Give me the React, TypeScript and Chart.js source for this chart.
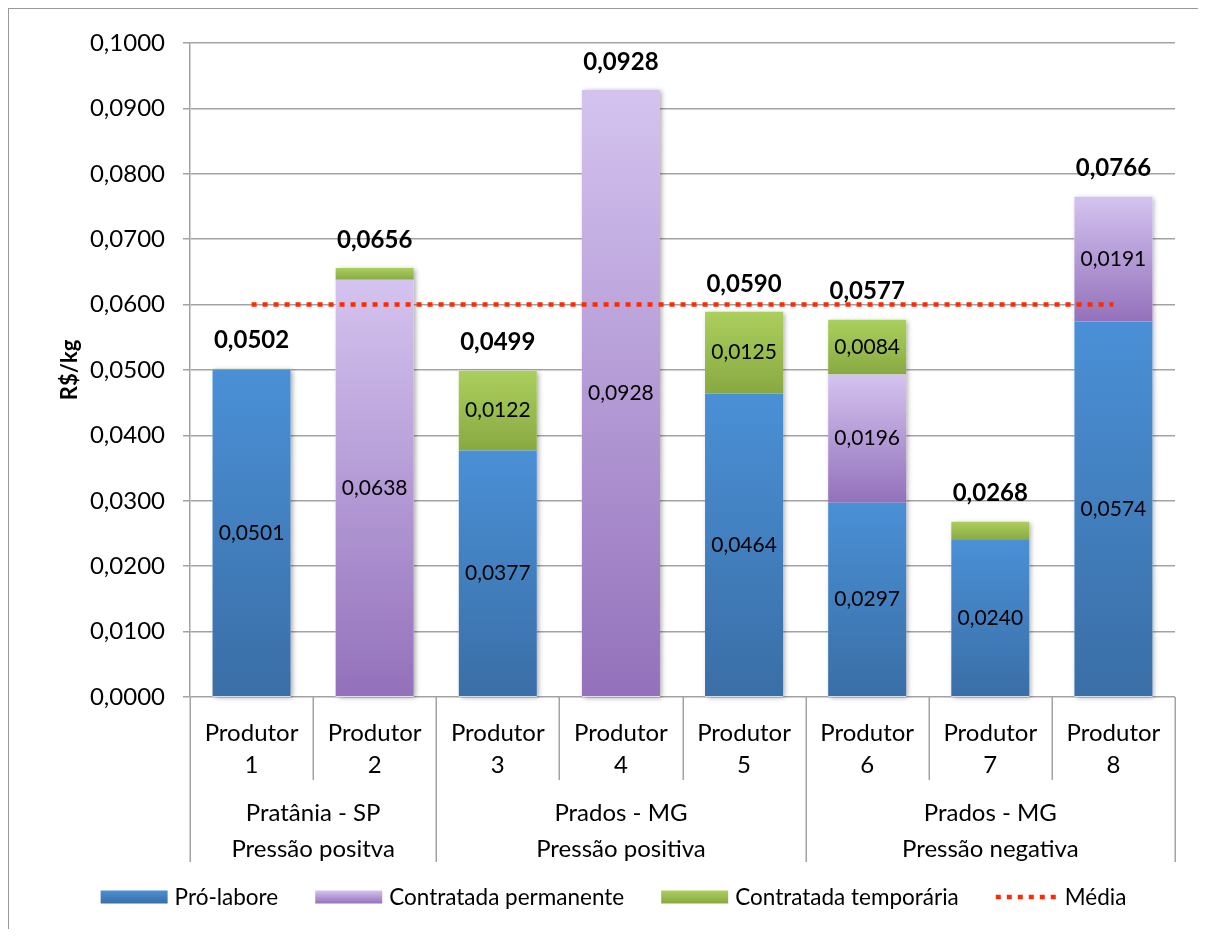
import { useEffect, useRef } from 'react';
import { Chart, registerables } from 'chart.js';

Chart.register(...registerables);

// Labour cost per kg, split by type of labour (R$/kg)
const producers = ['Produtor 1', 'Produtor 2', 'Produtor 3', 'Produtor 4', 'Produtor 5', 'Produtor 6', 'Produtor 7', 'Produtor 8'];
const proLabore = [0.0501, 0, 0.0377, 0, 0.0464, 0.0297, 0.024, 0.0574];
const permanente = [0, 0.0638, 0, 0.0928, 0, 0.0196, 0, 0.0191];
const temporaria = [0.0001, 0.0018, 0.0122, 0, 0.0125, 0.0084, 0.0028, 0];
const totals = [0.0502, 0.0656, 0.0499, 0.0928, 0.059, 0.0577, 0.0268, 0.0766];
const media = [0.06, 0.06, 0.06, 0.06, 0.06, 0.06, 0.06, 0.06];

// Region / pressure groups along the category axis
const groupCity = ['Pratânia - SP', 'Prados - MG', 'Prados - MG'];
const groupPressure = ['Pressão positva', 'Pressão positiva', 'Pressão negativa'];
const groupSizes = [2, 3, 3];

const seriesNames = ['Pró-labore', 'Contratada permanente', 'Contratada temporária'];
const seriesValues = [proLabore, permanente, temporaria];
const seriesColors = [
  ['#4a90d6', '#3a6ea6'],
  ['#d4c3ef', '#9371bb'],
  ['#abcf5d', '#88a942'],
];
const mediaName = 'Média';
const mediaColor = '#ff2a00';

const FONT = 'Lato, "Open Sans", sans-serif';
const GRID = '#a3a3a3';

const fmt = (v: number) => Number(v).toFixed(4).replace('.', ',');

const stackBase = (k: number, i: number) => {
  let s = 0;
  for (let j = 0; j < k; j++) s += seriesValues[j][i];
  return s;
};

const segmentGradient = (k: number) => (ctx: any) => {
  const chart = ctx.chart;
  const y = chart.scales?.y;
  const [top, bottom] = seriesColors[k];
  if (!y || ctx.type !== 'data') return bottom;
  const i = ctx.dataIndex;
  const base = stackBase(k, i);
  const y0 = y.getPixelForValue(base + seriesValues[k][i]);
  const y1 = y.getPixelForValue(base);
  if (!isFinite(y0) || !isFinite(y1) || Math.abs(y1 - y0) < 0.5) return top;
  const g = chart.ctx.createLinearGradient(0, y0, 0, y1);
  g.addColorStop(0, top);
  g.addColorStop(1, bottom);
  return g;
};

// Soft drop shadow behind every stacked column
const columnShadow = {
  id: 'columnShadow',
  beforeDatasetsDraw(chart: any) {
    const meta = chart.getDatasetMeta(1);
    const y = chart.scales.y;
    const c = chart.ctx;
    c.save();
    c.shadowColor = 'rgba(0,0,0,0.35)';
    c.shadowBlur = 5;
    c.shadowOffsetX = 2;
    c.shadowOffsetY = 1;
    c.fillStyle = '#ffffff';
    meta.data.forEach((el: any, i: number) => {
      const top = y.getPixelForValue(stackBase(3, i));
      const bottom = y.getPixelForValue(0);
      const w = el.width;
      c.fillRect(el.x - w / 2, top, w, bottom - top);
    });
    c.restore();
  },
};

// Segment values, column totals
const valueLabels = {
  id: 'valueLabels',
  afterDatasetsDraw(chart: any) {
    const c = chart.ctx;
    const y = chart.scales.y;
    c.save();
    c.fillStyle = '#000';
    c.textAlign = 'center';
    c.textBaseline = 'middle';
    c.font = `21px ${FONT}`;
    for (let k = 0; k < seriesValues.length; k++) {
      const meta = chart.getDatasetMeta(k + 1);
      meta.data.forEach((el: any, i: number) => {
        const v = seriesValues[k][i];
        if (v < 0.005) return;
        c.fillText(fmt(v), el.x, (el.y + el.base) / 2);
      });
    }
    c.font = `bold 24px ${FONT}`;
    const meta = chart.getDatasetMeta(1);
    meta.data.forEach((el: any, i: number) => {
      const top = y.getPixelForValue(stackBase(3, i));
      c.fillText(fmt(totals[i]), el.x, top - 28);
    });
    c.restore();
  },
};

// Group captions and separators under the category axis, plus the legend
const axisGroups = {
  id: 'axisGroups',
  afterDraw(chart: any) {
    const c = chart.ctx;
    const xs = chart.scales.x;
    const area = chart.chartArea;
    const n = producers.length;
    const edge = (i: number) =>
      i === 0 ? xs.left : i === n ? xs.right : (xs.getPixelForValue(i - 1) + xs.getPixelForValue(i)) / 2;
    const groupEdges = [0];
    groupSizes.forEach((s) => groupEdges.push(groupEdges[groupEdges.length - 1] + s));

    c.save();
    c.strokeStyle = GRID;
    c.lineWidth = 1.5;
    for (let i = 0; i <= n; i++) {
      const long = groupEdges.includes(i);
      const x = Math.round(edge(i)) + 0.25;
      c.beginPath();
      c.moveTo(x, area.bottom);
      c.lineTo(x, area.bottom + (long ? 165 : 83));
      c.stroke();
    }
    c.fillStyle = '#000';
    c.textAlign = 'center';
    c.textBaseline = 'middle';
    c.font = `24px ${FONT}`;
    groupSizes.forEach((_, g) => {
      const cx = (edge(groupEdges[g]) + edge(groupEdges[g + 1])) / 2;
      c.fillText(groupCity[g], cx, area.bottom + 116);
      c.fillText(groupPressure[g], cx, area.bottom + 152);
    });

    // legend
    c.font = `22.5px ${FONT}`;
    const boxW = 67;
    const boxH = 13;
    const lineW = 62;
    const gap = 7;
    const spacing = 37;
    const items = [
      ...seriesNames.map((name, k) => ({ name, k, w: boxW })),
      { name: mediaName, k: -1, w: lineW },
    ];
    const widths = items.map((it) => it.w + gap + c.measureText(it.name).width);
    const total = widths.reduce((a, b) => a + b, 0) + spacing * (items.length - 1);
    let x = chart.width / 2 + 10 - total / 2;
    const cy = area.bottom + 200;
    items.forEach((it, idx) => {
      if (it.k >= 0) {
        const g = c.createLinearGradient(0, cy - boxH / 2, 0, cy + boxH / 2);
        g.addColorStop(0, seriesColors[it.k][0]);
        g.addColorStop(1, seriesColors[it.k][1]);
        c.fillStyle = g;
        c.fillRect(x, cy - boxH / 2, boxW, boxH);
      } else {
        c.save();
        c.strokeStyle = mediaColor;
        c.lineWidth = 4.5;
        c.setLineDash([5, 6]);
        c.beginPath();
        c.moveTo(x, cy);
        c.lineTo(x + lineW, cy);
        c.stroke();
        c.restore();
      }
      c.fillStyle = '#000';
      c.textAlign = 'left';
      c.fillText(it.name, x + it.w + gap, cy + 1);
      x += widths[idx] + spacing;
    });
    c.restore();
  },
};

export default function App() {
  const ref = useRef<HTMLCanvasElement | null>(null);

  useEffect(() => {
    if (!ref.current) return;
    const chart = new Chart(ref.current, {
      type: 'bar',
      data: {
        labels: producers.map((p) => p.split(' ')),
        datasets: [
          {
            type: 'line',
            label: mediaName,
            data: media,
            borderColor: mediaColor,
            borderWidth: 4.5,
            borderDash: [5, 6],
            borderCapStyle: 'butt',
            pointRadius: 0,
            fill: false,
            stack: 'media',
            order: 0,
          } as any,
          ...seriesNames.map((name, k) => ({
            type: 'bar',
            label: name,
            data: seriesValues[k],
            backgroundColor: segmentGradient(k),
            borderWidth: 0,
            stack: 'custo',
            order: 1,
            barPercentage: 1,
            categoryPercentage: 0.634,
          })),
        ] as any,
      },
      options: {
        responsive: false,
        animation: false,
        devicePixelRatio: 1,
        layout: { padding: { left: 0, top: 34, right: 23, bottom: 0 } },
        plugins: {
          legend: { display: false },
          tooltip: { enabled: false },
        },
        scales: {
          x: {
            stacked: true,
            offset: true,
            grid: { display: false, drawTicks: false },
            border: { display: false },
            ticks: {
              color: '#000',
              font: { family: FONT, size: 24, lineHeight: '32px' } as any,
              padding: 20,
              maxRotation: 0,
              autoSkip: false,
            },
            afterFit: (s: any) => {
              s.height = 232;
            },
          },
          y: {
            stacked: true,
            min: 0,
            max: 0.1,
            ticks: {
              stepSize: 0.01,
              color: '#000',
              font: { family: FONT, size: 24 },
              padding: 18,
              callback: (v: any) => fmt(Number(v)),
            },
            grid: { color: GRID, lineWidth: 1.5, tickLength: 7 },
            border: { display: true, color: GRID, width: 1.5 },
            title: {
              display: true,
              text: 'R$/kg',
              color: '#000',
              font: { family: FONT, size: 22, weight: 'bold' },
              padding: { top: 48, bottom: 0 },
            },
            afterFit: (s: any) => {
              s.width = 181;
            },
          },
        },
      },
      plugins: [columnShadow, valueLabels, axisGroups],
    });
    return () => chart.destroy();
  }, []);

  return (
    <div style={{ borderLeft: '1px solid #999', borderTop: '1px solid #999', width: 1197, height: 920 }}>
      <canvas ref={ref} width={1189} height={920} style={{ display: 'block' }} />
    </div>
  );
}
